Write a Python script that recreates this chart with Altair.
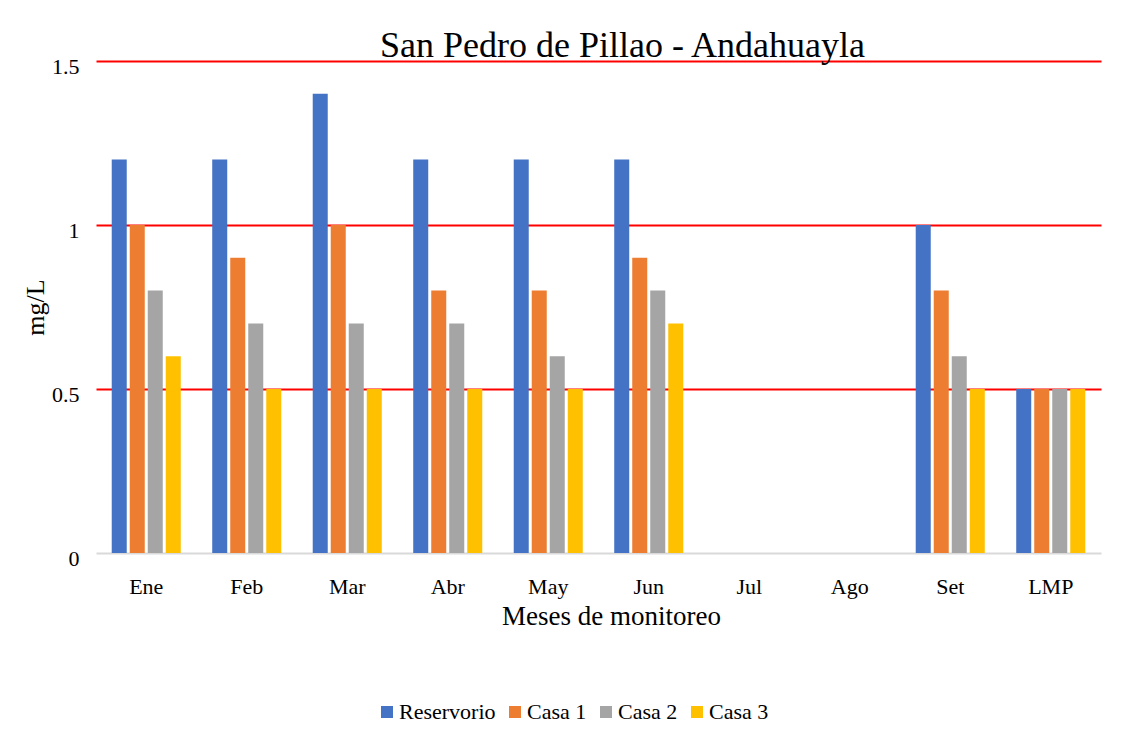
import altair as alt
import pandas as pd

months = ["Ene", "Feb", "Mar", "Abr", "May", "Jun", "Jul", "Ago", "Set", "LMP"]
series = ["Reservorio", "Casa 1", "Casa 2", "Casa 3"]
reservorio = [1.2, 1.2, 1.4, 1.2, 1.2, 1.2, None, None, 1.0, 0.5]
casa1 = [1.0, 0.9, 1.0, 0.8, 0.8, 0.9, None, None, 0.8, 0.5]
casa2 = [0.8, 0.7, 0.7, 0.7, 0.6, 0.8, None, None, 0.6, 0.5]
casa3 = [0.6, 0.5, 0.5, 0.5, 0.5, 0.7, None, None, 0.5, 0.5]
colors = ["#4472C4", "#ED7D31", "#A5A5A5", "#FFC000"]
y_ticks = [0, 0.5, 1, 1.5]

rows = []
for name, vals in zip(series, [reservorio, casa1, casa2, casa3]):
    for m, v in zip(months, vals):
        if v is not None:
            rows.append({"Mes": m, "Serie": name, "Valor": v})
df = pd.DataFrame(rows)

FONT = "Liberation Serif"

chart = alt.Chart(df).mark_bar().encode(
    x=alt.X("Mes:N", sort=months,
            scale=alt.Scale(domain=months, paddingInner=0.313, paddingOuter=0.1565),
            axis=alt.Axis(title="Meses de monitoreo", labelAngle=0, domain=False, ticks=False,
                          labelPadding=23, titlePadding=6, labelFontSize=22, titleFontSize=27,
                          labelFont=FONT, titleFont=FONT, titleFontWeight="normal",
                          labelColor="black", titleColor="black",
                          titleX=515, titleAlign="center")),
    xOffset=alt.XOffset("Serie:N", sort=series,
                        scale=alt.Scale(domain=series, paddingInner=0.1667, paddingOuter=0)),
    y=alt.Y("Valor:Q", scale=alt.Scale(domain=[0, 1.5], nice=False),
            axis=alt.Axis(title="mg/L", values=y_ticks, format="~g", domain=False, ticks=False,
                          labelPadding=17, titlePadding=3, labelFontSize=22, titleFontSize=26,
                          labelFont=FONT, titleFont=FONT, titleFontWeight="normal",
                          labelColor="black", titleColor="black", labelOffset=5,
                          gridColor={"condition": {"test": "datum.value === 0", "value": "#D9D9D9"},
                                     "value": "#FF0000"},
                          gridWidth=2)),
    color=alt.Color("Serie:N", sort=series,
                    scale=alt.Scale(domain=series, range=colors),
                    legend=alt.Legend(title=None, orient="none", legendX=280, legendY=640,
                                      direction="horizontal", symbolType="square", symbolSize=144,
                                      symbolStrokeWidth=0, labelFont=FONT, labelFontSize=22,
                                      labelColor="black", columnPadding=8, labelOffset=1)),
).properties(
    width=1005,
    height=492,
    title=alt.TitleParams("San Pedro de Pillao - Andahuayla", font=FONT, fontSize=36,
                          fontWeight="normal", color="black", anchor="middle", dx=24,
                          offset=-10),
    autosize=alt.AutoSizeParams(type="none"),
    padding={"left": 88, "top": 53, "right": 16, "bottom": 170},
).configure_view(stroke=None)

chart.save("out.html", embed_options={"renderer": "svg", "actions": False})
